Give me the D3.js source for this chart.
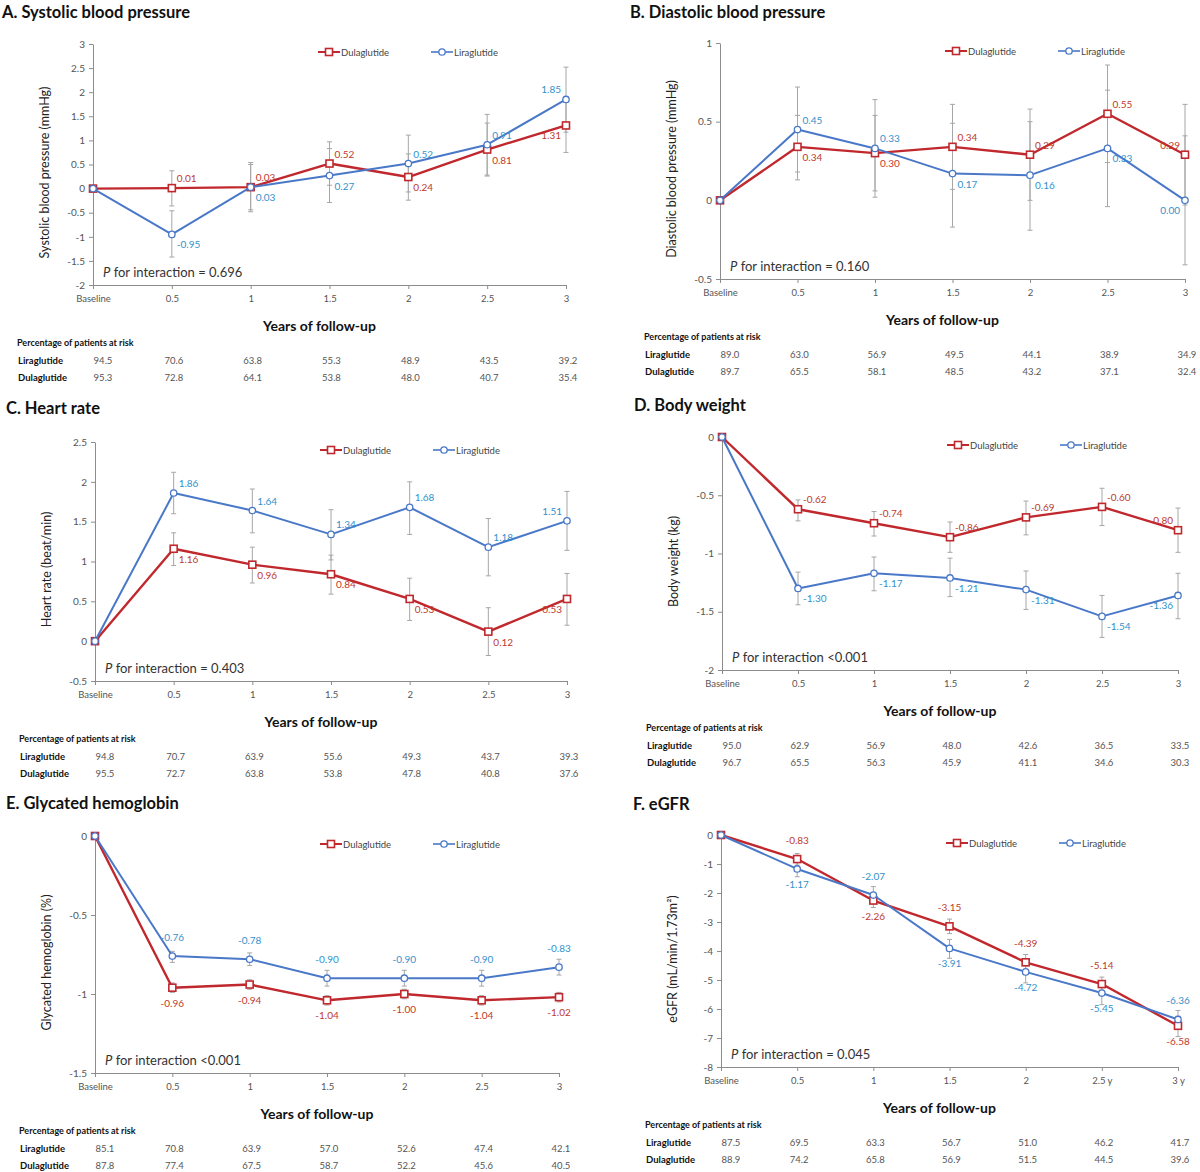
<!DOCTYPE html>
<html>
<head>
<meta charset="utf-8">
<script src="https://cdn.jsdelivr.net/npm/d3@7"></script>
<style>
  body { margin: 0; background: #fff; }
  svg { display: block; font-family: Lato, "Open Sans", sans-serif; }
</style>
</head>
<body>
<svg id="chart" width="1200" height="1172"></svg>
<script>
// ---- data ----
const xLabels = ["Baseline", "0.5", "1", "1.5", "2", "2.5", "3"];
const xLabelsF = ["Baseline", "0.5", "1", "1.5", "2", "2.5 y", "3 y"];
const seriesNames = ["Dulaglutide", "Liraglutide"];

// A. Systolic blood pressure
const sbpDula = [0, 0.01, 0.03, 0.52, 0.24, 0.81, 1.31];
const sbpDulaCI = [null, [-0.36, 0.37], [-0.44, 0.5], [0.07, 0.97], [-0.24, 0.72], [0.26, 1.36], [0.75, 1.87]];
const sbpLira = [0, -0.95, 0.03, 0.27, 0.52, 0.91, 1.85];
const sbpLiraCI = [null, [-1.42, -0.46], [-0.48, 0.54], [-0.29, 0.83], [-0.07, 1.11], [0.28, 1.54], [1.17, 2.52]];
const sbpRiskLira = [94.5, 70.6, 63.8, 55.3, 48.9, 43.5, 39.2];
const sbpRiskDula = [95.3, 72.8, 64.1, 53.8, 48.0, 40.7, 35.4];

// B. Diastolic blood pressure
const dbpDula = [0, 0.34, 0.3, 0.34, 0.29, 0.55, 0.29];
const dbpDulaCI = [null, [0.13, 0.54], [0.06, 0.54], [0.07, 0.61], [0.0, 0.58], [0.24, 0.86], [-0.03, 0.61]];
const dbpLira = [0, 0.45, 0.33, 0.17, 0.16, 0.33, 0.0];
const dbpLiraCI = [null, [0.18, 0.72], [0.02, 0.64], [-0.17, 0.49], [-0.19, 0.5], [-0.04, 0.7], [-0.41, 0.41]];
const dbpRiskLira = [89.0, 63.0, 56.9, 49.5, 44.1, 38.9, 34.9];
const dbpRiskDula = [89.7, 65.5, 58.1, 48.5, 43.2, 37.1, 32.4];

// C. Heart rate
const hrDula = [0, 1.16, 0.96, 0.84, 0.53, 0.12, 0.53];
const hrDulaCI = [null, [0.95, 1.36], [0.73, 1.18], [0.59, 1.08], [0.26, 0.79], [-0.18, 0.42], [0.2, 0.85]];
const hrLira = [0, 1.86, 1.64, 1.34, 1.68, 1.18, 1.51];
const hrLiraCI = [null, [1.6, 2.12], [1.36, 1.91], [1.02, 1.65], [1.34, 2.0], [0.82, 1.54], [1.14, 1.88]];
const hrRiskLira = [94.8, 70.7, 63.9, 55.6, 49.3, 43.7, 39.3];
const hrRiskDula = [95.5, 72.7, 63.8, 53.8, 47.8, 40.8, 37.6];

// D. Body weight
const bwDula = [0, -0.62, -0.74, -0.86, -0.69, -0.6, -0.8];
const bwDulaCI = [null, [-0.72, -0.54], [-0.85, -0.64], [-0.99, -0.73], [-0.84, -0.55], [-0.76, -0.44], [-0.99, -0.61]];
const bwLira = [0, -1.3, -1.17, -1.21, -1.31, -1.54, -1.36];
const bwLiraCI = [null, [-1.44, -1.16], [-1.32, -1.03], [-1.37, -1.04], [-1.48, -1.15], [-1.72, -1.36], [-1.56, -1.17]];
const bwRiskLira = [95.0, 62.9, 56.9, 48.0, 42.6, 36.5, 33.5];
const bwRiskDula = [96.7, 65.5, 56.3, 45.9, 41.1, 34.6, 30.3];

// E. Glycated hemoglobin
const hbDula = [0, -0.96, -0.94, -1.04, -1.0, -1.04, -1.02];
const hbDulaCI = [null, [-0.99, -0.93], [-0.97, -0.91], [-1.07, -1.01], [-1.03, -0.97], [-1.07, -1.01], [-1.05, -0.99]];
const hbLira = [0, -0.76, -0.78, -0.9, -0.9, -0.9, -0.83];
const hbLiraCI = [null, [-0.8, -0.73], [-0.82, -0.74], [-0.95, -0.85], [-0.95, -0.85], [-0.95, -0.85], [-0.88, -0.78]];
const hbRiskLira = [85.1, 70.8, 63.9, 57.0, 52.6, 47.4, 42.1];
const hbRiskDula = [87.8, 77.4, 67.5, 58.7, 52.2, 45.6, 40.5];

// F. eGFR
const egfrDula = [0, -0.83, -2.26, -3.15, -4.39, -5.14, -6.58];
const egfrDulaCI = [null, [-1.04, -0.64], [-2.5, -2.02], [-3.4, -2.9], [-4.7, -4.12], [-5.35, -4.9], [-6.95, -6.25]];
const egfrLira = [0, -1.17, -2.07, -3.91, -4.72, -5.45, -6.36];
const egfrLiraCI = [null, [-1.44, -0.92], [-2.35, -1.78], [-4.25, -3.6], [-5.1, -4.4], [-5.85, -5.1], [-6.65, -6.05]];
const egfrRiskLira = [87.5, 69.5, 63.3, 56.7, 51.0, 46.2, 41.7];
const egfrRiskDula = [88.9, 74.2, 65.8, 56.9, 51.5, 44.5, 39.6];

// ---- styling ----
const RED = "#c0282d", RED_TXT = "#c0392b";
const BLUE = "#4a78c8", BLUE_TXT = "#3391cc";
const AXIS = "#8c8c8c", TICK_TXT = "#555";

const svg = d3.select("#chart");

const panels = [
  { title: "A. Systolic blood pressure", titleX: 2, titleY: 18, yLabel: "Systolic blood pressure (mmHg)",
    left: 93, right: 566, top: 44, bottom: 285, yDomain: [-2, 3], yStep: 0.5, labels: xLabels, mode: "side",
    dula: sbpDula, dulaCI: sbpDulaCI, lira: sbpLira, liraCI: sbpLiraCI, riskLira: sbpRiskLira, riskDula: sbpRiskDula, p: "= 0.696" },
  { title: "B. Diastolic blood pressure", titleX: 630, titleY: 18, yLabel: "Diastolic blood pressure (mmHg)",
    left: 720, right: 1185, top: 43, bottom: 279, yDomain: [-0.5, 1], yStep: 0.5, labels: xLabels, mode: "side",
    dula: dbpDula, dulaCI: dbpDulaCI, lira: dbpLira, liraCI: dbpLiraCI, riskLira: dbpRiskLira, riskDula: dbpRiskDula, p: "= 0.160" },
  { title: "C. Heart rate", titleX: 6, titleY: 414, yLabel: "Heart rate (beat/min)",
    left: 95, right: 567, top: 442, bottom: 681, yDomain: [-0.5, 2.5], yStep: 0.5, labels: xLabels, mode: "side",
    dula: hrDula, dulaCI: hrDulaCI, lira: hrLira, liraCI: hrLiraCI, riskLira: hrRiskLira, riskDula: hrRiskDula, p: "= 0.403" },
  { title: "D. Body weight", titleX: 634, titleY: 411, yLabel: "Body weight (kg)",
    left: 722, right: 1178, top: 437, bottom: 670, yDomain: [-2, 0], yStep: 0.5, labels: xLabels, mode: "side",
    dula: bwDula, dulaCI: bwDulaCI, lira: bwLira, liraCI: bwLiraCI, riskLira: bwRiskLira, riskDula: bwRiskDula, p: "<0.001" },
  { title: "E. Glycated hemoglobin", titleX: 6, titleY: 809, yLabel: "Glycated hemoglobin (%)",
    left: 95, right: 559, top: 836, bottom: 1073, yDomain: [-1.5, 0], yStep: 0.5, labels: xLabels, mode: "center",
    dula: hbDula, dulaCI: hbDulaCI, lira: hbLira, liraCI: hbLiraCI, riskLira: hbRiskLira, riskDula: hbRiskDula, p: "<0.001" },
  { title: "F. eGFR", titleX: 633, titleY: 810, yLabel: "eGFR (mL/min/1.73m²)",
    left: 721, right: 1178, top: 835, bottom: 1067, yDomain: [-8, 0], yStep: 1, labels: xLabelsF, mode: "center",
    dula: egfrDula, dulaCI: egfrDulaCI, lira: egfrLira, liraCI: egfrLiraCI, riskLira: egfrRiskLira, riskDula: egfrRiskDula, p: "= 0.045" },
];

const fmtTick = (d) => String(+d.toFixed(2));

function marker(sel, kind, color) {
  if (kind === "square") {
    sel.append("rect")
      .attr("x", -3.5).attr("y", -3.5).attr("width", 7).attr("height", 7)
      .attr("fill", "#fff").attr("stroke", color).attr("stroke-width", 1.6);
  } else {
    sel.append("circle")
      .attr("r", 3.2)
      .attr("fill", "#fff").attr("stroke", color).attr("stroke-width", 1.3);
  }
}

function drawPanel(cfg) {
  const x = d3.scalePoint().domain(d3.range(cfg.labels.length)).range([cfg.left, cfg.right]);
  const y = d3.scaleLinear().domain(cfg.yDomain).range([cfg.bottom, cfg.top]);
  const g = svg.append("g");

  // title
  g.append("text")
    .attr("x", cfg.titleX).attr("y", cfg.titleY)
    .attr("font-size", 16.5).attr("font-weight", "bold").attr("fill", "#111")
    .text(cfg.title);

  // axes
  const yTicks = d3.range(cfg.yDomain[0], cfg.yDomain[1] + 1e-9, cfg.yStep);
  const yAxis = g.append("g")
    .attr("transform", `translate(${cfg.left},0)`)
    .call(d3.axisLeft(y).tickValues(yTicks).tickSize(4).tickSizeOuter(0).tickPadding(4).tickFormat(fmtTick));
  const xAxis = g.append("g")
    .attr("transform", `translate(0,${cfg.bottom})`)
    .call(d3.axisBottom(x).tickSize(4).tickSizeOuter(0).tickPadding(6).tickFormat((i) => cfg.labels[i]));
  [yAxis, xAxis].forEach((a) => {
    a.attr("font-family", null).attr("font-size", null);
    a.select(".domain").attr("stroke", AXIS);
    a.selectAll(".tick line").attr("stroke", AXIS);
    a.selectAll(".tick text").attr("fill", TICK_TXT);
  });
  yAxis.selectAll(".tick text").attr("font-size", 10);
  xAxis.selectAll(".tick text").attr("font-size", 9.5);

  // y axis label
  g.append("text")
    .attr("transform", `translate(${cfg.left - 44},${(cfg.top + cfg.bottom) / 2 + 8}) rotate(-90)`)
    .attr("text-anchor", "middle").attr("font-size", 12.5).attr("fill", "#222")
    .text(cfg.yLabel);

  // x axis title
  g.append("text")
    .attr("x", (cfg.left + cfg.right) / 2 - 10).attr("y", cfg.bottom + 46)
    .attr("text-anchor", "middle").attr("font-size", 14).attr("font-weight", "bold").attr("fill", "#111")
    .text("Years of follow-up");

  // P for interaction
  const pt = g.append("text")
    .attr("x", cfg.left + 10).attr("y", cfg.bottom - 8)
    .attr("font-size", 13).attr("fill", "#333");
  pt.append("tspan").attr("font-style", "italic").text("P");
  pt.append("tspan").text(" for interaction " + cfg.p);

  const series = [
    { name: seriesNames[0], vals: cfg.dula, ci: cfg.dulaCI, color: RED, txt: RED_TXT, kind: "square", width: 2.4 },
    { name: seriesNames[1], vals: cfg.lira, ci: cfg.liraCI, color: BLUE, txt: BLUE_TXT, kind: "circle", width: 2 },
  ];

  // error bars
  series.forEach((s) => {
    s.ci.forEach((c, i) => {
      if (!c) return;
      const eb = g.append("g").attr("stroke", "#a6a6a6").attr("stroke-width", 1);
      eb.append("line").attr("x1", x(i)).attr("x2", x(i)).attr("y1", y(c[0])).attr("y2", y(c[1]));
      eb.append("line").attr("x1", x(i) - 2.5).attr("x2", x(i) + 2.5).attr("y1", y(c[0])).attr("y2", y(c[0]));
      eb.append("line").attr("x1", x(i) - 2.5).attr("x2", x(i) + 2.5).attr("y1", y(c[1])).attr("y2", y(c[1]));
    });
  });

  // lines + markers
  const line = d3.line().x((d, i) => x(i)).y((d) => y(d));
  series.forEach((s) => {
    g.append("path").datum(s.vals)
      .attr("d", line).attr("fill", "none")
      .attr("stroke", s.color).attr("stroke-width", s.width).attr("stroke-linejoin", "round");
    s.vals.forEach((v, i) => {
      marker(g.append("g").attr("transform", `translate(${x(i)},${y(v)})`), s.kind, s.color);
    });
  });

  // value labels: upper series above, lower series below
  const last = cfg.labels.length - 1;
  series.forEach((s, si) => {
    const other = series[1 - si];
    s.vals.forEach((v, i) => {
      if (i === 0) return;
      const above = si === 0 ? v >= other.vals[i] : v > other.vals[i];
      let tx, anchor, ty;
      if (cfg.mode === "side") {
        tx = i === last ? x(i) - 5 : x(i) + 5;
        anchor = i === last ? "end" : "start";
        ty = above ? y(v) - 6 : y(v) + 14;
      } else {
        tx = x(i);
        anchor = "middle";
        ty = above ? y(v) - 15 : y(v) + 19;
      }
      g.append("text")
        .attr("x", tx).attr("y", ty).attr("text-anchor", anchor)
        .attr("font-size", 10).attr("fill", s.txt)
        .text(v.toFixed(2));
    });
  });

  // legend
  const legendX = [cfg.left + 225, cfg.left + 338];
  series.forEach((s, si) => {
    const lg = g.append("g").attr("transform", `translate(${legendX[si]},${cfg.top + 8})`);
    lg.append("line").attr("x1", 0).attr("x2", 22).attr("stroke", s.color).attr("stroke-width", s.width - 0.4);
    marker(lg.append("g").attr("transform", "translate(11,0)"), s.kind, s.color);
    lg.append("text").attr("x", 23).attr("y", 3.5).attr("font-size", 9.5).attr("fill", "#444").text(s.name);
  });

  // risk table
  const tl = cfg.left - 76;
  g.append("text")
    .attr("x", tl).attr("y", cfg.bottom + 61)
    .attr("font-size", 9).attr("font-weight", "bold").attr("fill", "#111")
    .text("Percentage of patients at risk");
  const rows = [
    { name: seriesNames[1], vals: cfg.riskLira, dy: 79 },
    { name: seriesNames[0], vals: cfg.riskDula, dy: 96 },
  ];
  rows.forEach((r) => {
    g.append("text")
      .attr("x", tl + 1).attr("y", cfg.bottom + r.dy)
      .attr("font-size", 9.5).attr("font-weight", "bold").attr("fill", "#111")
      .text(r.name);
    r.vals.forEach((v, i) => {
      g.append("text")
        .attr("x", i === 0 ? x(i) + 10 : x(i) + 2).attr("y", cfg.bottom + r.dy)
        .attr("text-anchor", "middle").attr("font-size", 9.5).attr("fill", "#555")
        .text(v.toFixed(1));
    });
  });
}

panels.forEach(drawPanel);
</script>
</body>
</html>
